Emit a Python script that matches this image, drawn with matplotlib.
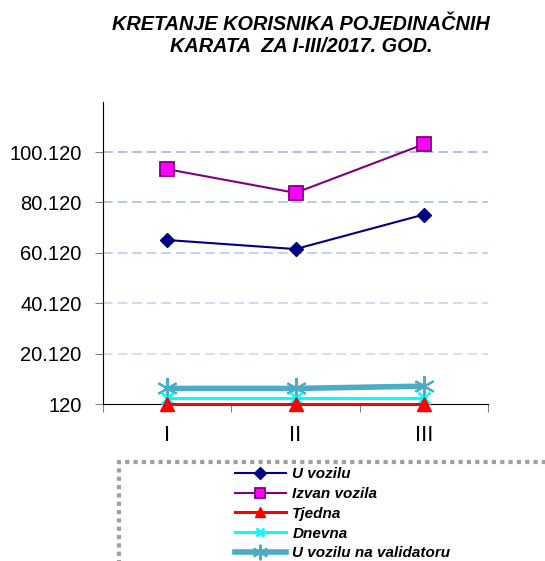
import matplotlib
matplotlib.use("Agg")
import matplotlib.pyplot as plt
from matplotlib.patches import Rectangle
from matplotlib.ticker import FixedLocator, FuncFormatter

plt.rcParams["font.family"] = ["Liberation Sans", "DejaVu Sans"]

# data
months = ["I", "II", "III"]
u_vozilu = [65200, 61600, 75300]
izvan_vozila = [93300, 83900, 103200]
tjedna = [300, 300, 300]
dnevna = [2600, 2600, 2600]
validator = [6300, 6300, 7200]
y_ticks = [120, 20120, 40120, 60120, 80120, 100120]

fig = plt.figure(figsize=(5.45, 5.61), dpi=100)
ax = fig.add_axes([103 / 545, 1 - 404 / 561, 385 / 545, 302.4 / 561])

x = [i + 0.5 for i in range(len(months))]

# grid lines, a bit lighter towards the bottom
grid_cols = ["#d6e0f2", "#cfdaf0", "#c4d3ee", "#b7c9ea", "#adc2e8"]
for t, c in zip(y_ticks[1:], grid_cols):
    ax.axhline(t, color=c, linestyle=(0, (5, 2.5)), linewidth=1.4, zorder=0)

ax.plot(x, u_vozilu, color="#000080", linewidth=1.5, marker="D",
        markersize=7.5, label="U vozilu", zorder=3)
ax.plot(x, izvan_vozila, color="#800080", linewidth=1.5, marker="s",
        markersize=10, markerfacecolor="#ff00ff", markeredgecolor="#800080",
        markeredgewidth=1.3, label="Izvan vozila", zorder=3)
ax.plot(x, validator, color="#4bacc6", linewidth=4, marker=(6, 2, 0),
        markersize=15, markeredgewidth=1.5, markeredgecolor="#4bacc6",
        label="U vozilu na validatoru", zorder=3)
ax.plot(x, dnevna, color="#00ffff", linewidth=2.2, marker="x",
        markersize=8, markeredgewidth=2, label="Dnevna", zorder=4)
ax.plot(x, tjedna, color="#ff0000", linewidth=2.2, marker="^",
        markersize=10, label="Tjedna", zorder=5, clip_on=False)

ax.set_xlim(0, 3)
ax.set_ylim(120, 120120)
ax.xaxis.set_major_locator(FixedLocator([0, 1, 2, 3]))
ax.xaxis.set_major_formatter(FuncFormatter(lambda v, p: ""))
ax.set_xticks(x, months, minor=True)
ax.tick_params(axis="x", which="minor", length=0, labelsize=16, pad=15)
ax.tick_params(axis="x", which="major", length=6, direction="out",
               color="#808080")
ax.set_yticks(y_ticks)
ax.yaxis.set_major_formatter(FuncFormatter(lambda v, p: f"{int(v):,}".replace(",", ".")))
ax.tick_params(axis="y", length=6, direction="out", color="#808080",
               labelsize=14.5, pad=9.5)

for s in ["top", "right"]:
    ax.spines[s].set_visible(False)
ax.spines["left"].set_color("black")
ax.spines["bottom"].set_color("black")

fig.text(301 / 545, 1 - 36 / 561,
         "KRETANJE KORISNIKA POJEDINAČNIH\nKARATA  ZA I-III/2017. GOD.",
         ha="center", va="center", fontsize=14.3, fontweight="bold",
         fontstyle="italic", linespacing=1.2)

# legend box
fig.patches.append(Rectangle((119 / 545, -0.05), 0.8, 1 - 462 / 561 + 0.05,
                             transform=fig.transFigure, fill=False,
                             edgecolor="#a0a0a0", linestyle=(0, (1, 1)),
                             linewidth=3))

handles, labels = ax.get_legend_handles_labels()
order = ["U vozilu", "Izvan vozila", "Tjedna", "Dnevna", "U vozilu na validatoru"]
h = [handles[labels.index(o)] for o in order]
leg = fig.legend(h, order, loc="upper left",
                 bbox_to_anchor=(229 / 545, 1 - 461 / 561), frameon=False,
                 prop={"weight": "bold", "style": "italic", "size": 11},
                 handlelength=3.3, handletextpad=0.45, labelspacing=0.38,
                 borderaxespad=0, markerscale=0.75)

fig.savefig("out.png", dpi=100)
